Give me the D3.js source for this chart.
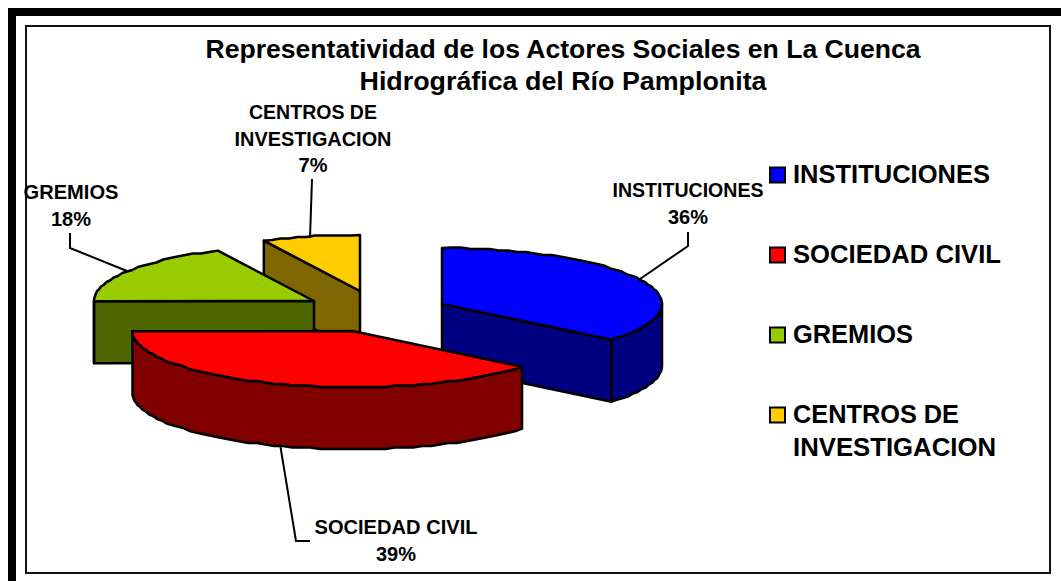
<!DOCTYPE html>
<html><head><meta charset="utf-8">
<script src="https://cdnjs.cloudflare.com/ajax/libs/d3/7.8.5/d3.min.js"></script>
<style>html,body{margin:0;padding:0;background:#fff}svg{display:block}text{font-family:"Liberation Sans",Arial,sans-serif;font-weight:bold;fill:#000}</style>
</head><body><svg id="c" width="1061" height="581"></svg>
<script>
const categories = ["INSTITUCIONES","SOCIEDAD CIVIL","GREMIOS","CENTROS DE INVESTIGACION"];
const shares = [36,38.9,17.9,7.2];
const topColors = ["#0000FF","#FF0000","#99CC00","#FFCC00"];
const sideColors = ["#000080","#800000","#4D6600","#806600"];
const apexX = [442,352.5,314,360];
const apexY = [304,331,301,291];
const titleLines = ["Representatividad de los Actores Sociales en La Cuenca","Hidrográfica del Río Pamplonita"];

const svg = d3.select("#c");
svg.append("rect").attr("x",12).attr("y",12).attr("width",1070).attr("height",590).attr("fill","#fff").attr("stroke","#000").attr("stroke-width",8);
svg.append("rect").attr("x",26).attr("y",26).attr("width",1024).attr("height",547).attr("fill","#fff").attr("stroke","#111").attr("stroke-width",2);

const rx = d3.scaleLinear().domain([-1,1]).range([-220,220]);
const ry = d3.scaleLinear().domain([-1,1]).range([-56,56]);
const depth = 62;
const pie = d3.pie().sort(null).value(d=>d);
const arcs = pie(shares);
const pt = (i,a)=>[apexX[i]+rx(Math.sin(a)), apexY[i]+ry(-Math.cos(a))];
const HALF=Math.PI/2, step=Math.PI/72;
function rim(i,a0,a1){
  const n=Math.max(1,Math.ceil((a1-a0)/step)), out=[];
  for(let k=0;k<=n;k++){
    const p=pt(i,a0+(a1-a0)*k/n);
    // the source's outline sits on a coarse pixel grid, which gives its stepped edge
    out.push(k===0||k===n?p:[p[0],Math.round(p[1]/1.5)*1.5]);
  }
  return out;
}
const line=d3.line();
const closed=p=>line(p)+"Z";
const g=svg.append("g").attr("stroke","#000").attr("stroke-width",2.5).attr("stroke-linejoin","round");
[3,2,0,1].forEach(i=>{
  const {startAngle:a0,endAngle:a1}=arcs[i];
  const apex=[apexX[i],apexY[i]];
  const down=p=>[p[0],p[1]+depth];
  const face=a=>{const r=pt(i,a);return [apex,r,down(r),down(apex)];};
  if(Math.sin(a0)<-1e-6) g.append("path").attr("d",closed(face(a0))).attr("fill",sideColors[i]);
  if(Math.sin(a1)>1e-6) g.append("path").attr("d",closed(face(a1))).attr("fill",sideColors[i]);
  const s=Math.max(a0,HALF), e=Math.min(a1,3*HALF);
  if(e>s){const r=rim(i,s,e);g.append("path").attr("d",closed(r.concat(r.map(down).reverse()))).attr("fill",sideColors[i]);}
  g.append("path").attr("d",closed([apex].concat(rim(i,a0,a1)))).attr("fill",topColors[i]);
});

const leaders=[[[640,279],[688,246],[688,232]],[[280,444],[296,541],[310,541]],[[127,271],[70,248],[70,233]],[[310,238],[312,179]]];
svg.append("g").selectAll("path").data(leaders).join("path").attr("d",d=>line(d)).attr("fill","none").attr("stroke","#000").attr("stroke-width",2);

function txt(s,x,y,size,anchor,len){
  const t=svg.append("text").attr("x",x).attr("y",y).attr("font-size",size).attr("text-anchor",anchor).text(s);
  if(len) t.attr("textLength",len).attr("lengthAdjust","spacingAndGlyphs");
}
txt(titleLines[0],563,58,25.5,"middle",715);
txt(titleLines[1],563,90,25.5,"middle",407);
const pct=shares.map(v=>Math.round(v)+"%");
txt("INSTITUCIONES",688,197,19.5,"middle",151);txt(pct[0],688,224,20,"middle");
txt("SOCIEDAD CIVIL",396,534,19.5,"middle",163);txt(pct[1],396,561,20,"middle");
txt("GREMIOS",71,199,19.5,"middle",95);txt(pct[2],71,226,20,"middle");
txt("CENTROS DE",313,119,19.5,"middle",128);txt("INVESTIGACION",313,146,19.5,"middle",157);txt(pct[3],313,172,20,"middle");

const legendY=[175,255,335,415];
svg.append("g").selectAll("rect").data(categories).join("rect").attr("x",770).attr("y",(d,i)=>legendY[i]-7.5).attr("width",15).attr("height",15).attr("fill",(d,i)=>topColors[i]).attr("stroke","#000").attr("stroke-width",2);
txt(categories[0],793,183,25,"start",197);
txt(categories[1],793,263,25,"start",208);
txt(categories[2],793,343,25,"start",120);
txt("CENTROS DE",793,423,25,"start",166);
txt("INVESTIGACION",793,456,25,"start",203);
</script></body></html>
